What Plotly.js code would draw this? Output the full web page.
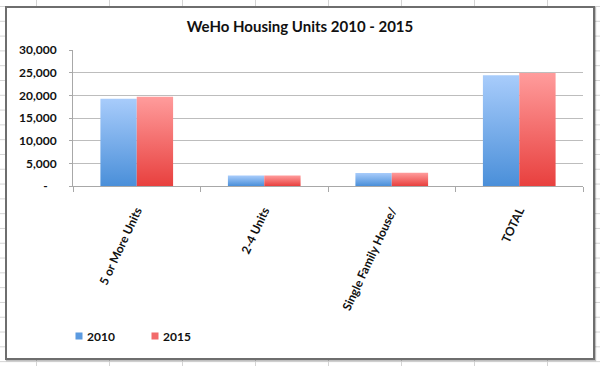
<!DOCTYPE html>
<html>
<head>
<meta charset="utf-8">
<script src="https://cdn.plot.ly/plotly-3.0.1.min.js"></script>
<style>
  html, body { margin: 0; padding: 0; }
  body {
    width: 600px; height: 366px; overflow: hidden; position: relative;
    background-color: #ffffff;
    background-image:
      linear-gradient(to right, #d4d4d4 1px, transparent 1px),
      linear-gradient(to bottom, #d4d4d4 1px, transparent 1px);
    background-size: 73px 100%, 100% 14.8px;
    background-position: 36px 0, 0 6px;
  }
  #frame {
    position: absolute; left: 5px; top: 6px; width: 586px; height: 350px;
    background: #ffffff; border: 2px solid #6e6e6e;
    box-shadow: 1px 1px 1px rgba(0,0,0,0.25);
  }
  #chart { position: absolute; left: 0; top: 0; width: 600px; height: 366px; }
</style>
</head>
<body>
<div id="frame"></div>
<div id="chart"></div>
<script>
const categories = ['5 or More Units', '2-4 Units', 'Single Family House/', 'TOTAL'];
const series2010 = [19270, 2290, 2870, 24450];
const series2015 = [19710, 2300, 2900, 24930];
const yTickVals = [0, 5000, 10000, 15000, 20000, 25000, 30000];
const yTickText = ['-\u00a0\u00a0\u00a0', '5,000', '10,000', '15,000', '20,000', '25,000', '30,000'];

const FONT = 'Lato, "Open Sans", "DejaVu Sans", sans-serif';

const traces = [
  { type: 'bar', name: '2010', x: categories, y: series2010,
    marker: { color: '#5b9ae0', line: { width: 0 } }, hoverinfo: 'none' },
  { type: 'bar', name: '2015', x: categories, y: series2015,
    marker: { color: '#f26a6a', line: { width: 0 } }, hoverinfo: 'none' }
];

const layout = {
  width: 600, height: 366,
  paper_bgcolor: 'rgba(0,0,0,0)', plot_bgcolor: 'rgba(0,0,0,0)',
  margin: { l: 73, r: 17, t: 50, b: 180, pad: 0 },
  font: { family: FONT, color: '#111111', size: 12, weight: 'bold' },
  title: { text: '<b>WeHo Housing Units 2010 - 2015</b>', x: 0.5, xanchor: 'center',
           y: 1 - 27/366, yref: 'container', yanchor: 'middle',
           font: { family: FONT, size: 15, color: '#111111' } },
  barmode: 'group', bargap: 0.43, bargroupgap: 0,
  xaxis: {
    type: 'category', tickangle: -65, ticks: 'outside', tickson: 'boundaries',
    ticklen: 5, tickcolor: '#a8a8a8', showline: true, linecolor: '#a8a8a8', linewidth: 1,
    showgrid: false, ticklabelstandoff: 12,
    tickfont: { family: FONT, size: 12, color: '#111111', weight: 'bold' }
  },
  yaxis: {
    range: [0, 30000], tickvals: yTickVals, ticktext: yTickText,
    ticks: 'outside', ticklen: 3, tickcolor: '#a8a8a8',
    showline: true, linecolor: '#a8a8a8', linewidth: 1,
    showgrid: true, gridcolor: '#bdbdbd', gridwidth: 1, zeroline: false,
    ticklabelstandoff: 10,
    tickfont: { family: FONT, size: 12, color: '#111111', weight: 'bold' }
  },
  showlegend: true,
  legend: {
    orientation: 'h', x: (47 - 73) / 510, xanchor: 'left',
    y: 1 - 336/366, yref: 'container', yanchor: 'middle',
    entrywidth: 31, entrywidthmode: 'pixels',
    font: { family: FONT, size: 12, color: '#111111', weight: 'bold' },
    bgcolor: 'rgba(0,0,0,0)', traceorder: 'normal'
  }
};

Plotly.newPlot('chart', traces, layout, { displayModeBar: false, staticPlot: true }).then(function (gd) {
  const svgNS = 'http://www.w3.org/2000/svg';
  const svg = gd.querySelector('svg.main-svg');
  const defs = document.createElementNS(svgNS, 'defs');
  function grad(id, top, bottom) {
    const g = document.createElementNS(svgNS, 'linearGradient');
    g.setAttribute('id', id);
    g.setAttribute('x1', '0'); g.setAttribute('y1', '0');
    g.setAttribute('x2', '0'); g.setAttribute('y2', '1');
    [[0, top], [1, bottom]].forEach(function (s) {
      const st = document.createElementNS(svgNS, 'stop');
      st.setAttribute('offset', s[0]);
      st.setAttribute('stop-color', s[1]);
      g.appendChild(st);
    });
    defs.appendChild(g);
  }
  grad('gBlue', '#a8ccfb', '#4a8fd9');
  grad('gRed', '#ff9c9c', '#e8403e');
  svg.insertBefore(defs, svg.firstChild);
  const ids = ['gBlue', 'gRed'];
  gd.querySelectorAll('.barlayer .trace.bars').forEach(function (t, i) {
    t.querySelectorAll('path').forEach(function (p) { p.style.fill = 'url(#' + ids[i] + ')'; });
  });
  // smaller legend swatches placed next to the text, as in the original
  gd.querySelectorAll('.legend .legendpoints path').forEach(function (p) {
    p.setAttribute('d', 'M15.5,3.5H8.5V-3.5H15.5Z');
  });
});
</script>
</body>
</html>
